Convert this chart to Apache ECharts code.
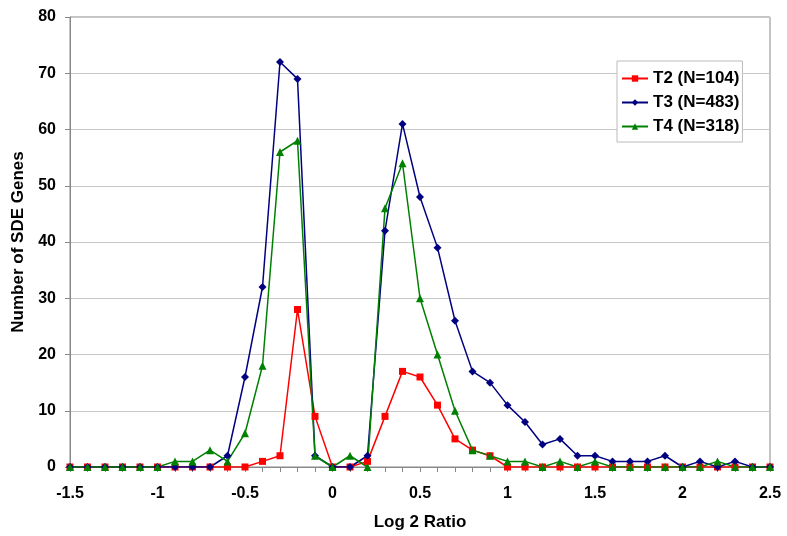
<!DOCTYPE html>
<html>
<head>
<meta charset="utf-8">
<script src="https://cdn.jsdelivr.net/npm/echarts@6/dist/echarts.min.js"></script>
<style>
  html, body { margin: 0; padding: 0; background: #fff; }
  #chart { width: 787px; height: 536px; }
</style>
</head>
<body>
<div id="chart"></div>
<script>
// log2 ratio bins
const ratios = [-1.5, -1.4, -1.3, -1.2, -1.1, -1.0, -0.9, -0.8, -0.7, -0.6, -0.5, -0.4, -0.3, -0.2, -0.1,
  0, 0.1, 0.2, 0.3, 0.4, 0.5, 0.6, 0.7, 0.8, 0.9, 1.0, 1.1, 1.2, 1.3, 1.4, 1.5, 1.6, 1.7, 1.8, 1.9,
  2.0, 2.1, 2.2, 2.3, 2.4, 2.5];

const t2 = [0, 0, 0, 0, 0, 0, 0, 0, 0, 0, 0, 1, 2, 28, 9,
  0, 0, 1, 9, 17, 16, 11, 5, 3, 2, 0, 0, 0, 0, 0, 0, 0, 0, 0, 0,
  0, 0, 0, 0, 0, 0];
const t3 = [0, 0, 0, 0, 0, 0, 0, 0, 0, 2, 16, 32, 72, 69, 2,
  0, 0, 2, 42, 61, 48, 39, 26, 17, 15, 11, 8, 4, 5, 2, 2, 1, 1, 1, 2,
  0, 1, 0, 1, 0, 0];
const t4 = [0, 0, 0, 0, 0, 0, 1, 1, 3, 1, 6, 18, 56, 58, 2,
  0, 2, 0, 46, 54, 30, 20, 10, 3, 2, 1, 1, 0, 1, 0, 1, 0, 0, 0, 0,
  0, 0, 1, 0, 0, 0];

const seriesNames = ['T2 (N=104)', 'T3 (N=483)', 'T4 (N=318)'];

const pairs = vals => ratios.map((x, i) => [x, vals[i]]);
const bold = { fontFamily: 'Liberation Sans, Arial', fontWeight: 'bold', color: '#000' };

const chart = echarts.init(document.getElementById('chart'));
chart.setOption({
  animation: false,
  grid: {
    left: 70, right: 17, top: 17, bottom: 68,
    show: true, borderColor: '#888', borderWidth: 1
  },
  legend: {
    orient: 'vertical',
    left: 617, top: 61,
    backgroundColor: '#fff',
    borderColor: '#bbb', borderWidth: 1,
    padding: [9, 3, 7, 4],
    itemGap: 7,
    itemWidth: 26, itemHeight: 8,
    textStyle: Object.assign({ fontSize: 17 }, bold),
    data: seriesNames
  },
  xAxis: {
    type: 'value',
    min: -1.5, max: 2.5, interval: 0.5,
    name: 'Log 2 Ratio',
    nameLocation: 'middle', nameGap: 47,
    nameTextStyle: Object.assign({ fontSize: 17 }, bold),
    axisLine: { show: true, onZero: false, lineStyle: { color: '#888' } },
    axisTick: { show: true, length: 5, lineStyle: { color: '#888' } },
    minorTick: { show: true, splitNumber: 5, length: 5, lineStyle: { color: '#888' } },
    splitLine: { show: false },
    axisLabel: Object.assign({ fontSize: 16, margin: 19 }, bold)
  },
  yAxis: {
    type: 'value',
    min: 0, max: 80, interval: 10,
    name: 'Number of SDE Genes',
    nameLocation: 'middle', nameGap: 42,
    nameTextStyle: Object.assign({ fontSize: 17 }, bold),
    axisLine: { show: true, onZero: false, lineStyle: { color: '#888' } },
    axisTick: { show: true, length: 5, lineStyle: { color: '#888' } },
    splitLine: { show: true, lineStyle: { color: '#c8c8c8', width: 1 } },
    axisLabel: Object.assign({ fontSize: 16, margin: 14 }, bold)
  },
  series: [
    {
      name: seriesNames[0], type: 'line', data: pairs(t2),
      symbol: 'rect', symbolSize: 7,
      itemStyle: { color: '#ff0000' },
      lineStyle: { color: '#ff0000', width: 1.5 }
    },
    {
      name: seriesNames[1], type: 'line', data: pairs(t3),
      symbol: 'diamond', symbolSize: 8,
      itemStyle: { color: '#000080' },
      lineStyle: { color: '#000080', width: 1.5 }
    },
    {
      name: seriesNames[2], type: 'line', data: pairs(t4),
      symbol: 'triangle', symbolSize: 8,
      itemStyle: { color: '#008000' },
      lineStyle: { color: '#008000', width: 1.5 }
    }
  ]
});
</script>
</body>
</html>
